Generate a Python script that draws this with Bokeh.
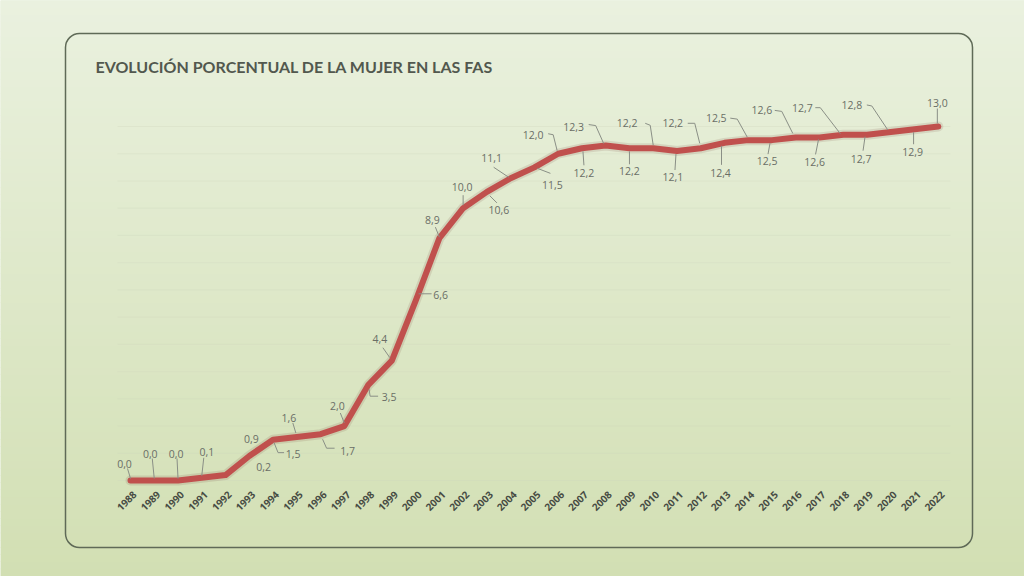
import math
from bokeh.plotting import figure
from bokeh.models import Range1d, BoxAnnotation, ColumnDataSource
from bokeh.core.properties import value
from bokeh.embed import file_html
from bokeh.resources import INLINE

# ---------------- data ----------------
TITLE = "EVOLUCIÓN PORCENTUAL DE LA MUJER EN LAS FAS"
years = list(range(1988, 2023))
pct = [0.0, 0.0, 0.0, 0.1, 0.2, 0.9, 1.5, 1.6, 1.7, 2.0,
       3.5, 4.4, 6.6, 8.9, 10.0, 10.6, 11.1, 11.5, 12.0, 12.2,
       12.3, 12.2, 12.2, 12.1, 12.2, 12.4, 12.5, 12.5, 12.6, 12.6,
       12.7, 12.7, 12.8, 12.9, 13.0]
year_labels = [str(y) for y in years]
value_labels = [f"{v:.1f}".replace(".", ",") for v in pct]
grid_values = list(range(0, 14))

# ---------------- layout (pixels) ----------------
W, H = 1024, 576
PX_YEAR = 23.76      # px per year
PX_UNIT = 27.23      # px per percentage point
X0 = 130             # px of first year from left
Y0 = 96              # px of value 0 from bottom

# label offsets in px (dx right, dy down) relative to each point
LABEL_OFF = [(-6, -17), (-4, -27), (-2, -27), (5, -26), (38, -8), (2, -17), (20, 14), (-8, -19), (27, 17), (-7, -20),
             (21, 12), (-12, -22), (25, -6), (-7, -18), (-1, -21), (12, 18), (-19, -20), (18, 18), (-25, -19), (2, 25),
             (-32, -19), (0, 23), (-26, -25), (-4, 26), (-28, -25), (-4, 30), (-32, -22), (-5, 21), (-34, -27), (-5, 25),
             (-41, -27), (-6, 24), (-39, -27), (-2, 23), (-1, -24)]
LEADERS = [
    [(0, -2), (-3, -12)], [(0, -2), (-2, -22)], [(0, -2), (-1, -22)], [(0, -2), (2, -20)], None, None,
    [(1, 3), (5, 13), (11, 13)], [(-1, -4), (-4, -14)], [(2, 5), (6, 14), (14, 14)], [(0, -3), (-4, -13)],
    [(1, 4), (2, 11), (10, 11)], [(-2, -3), (-9, -13)], [(3, -7), (16, -7)], [(0, -1), (-4, -11)],
    [(0, -3), (0, -13)], [(3, 4), (10, 11)], [(-2, -1), (-17, -11)], [(3, 1), (16, 6)],
    [(-1, -3), (-5, -19), (-10, -20)], [(1, 3), (2, 17)], [(-2, -2), (-10, -20), (-17, -21)],
    [(0, 3), (0, 16)], [(0, -3), (-3, -23), (-8, -25)], [(-1, 3), (-2, 19)],
    [(-1, -5), (-6, -25), (-13, -25)], [(-3, 3), (-3, 22)], [(-1, -3), (-11, -21), (-18, -22)],
    [(-2, 3), (-4, 14)], [(-3, -4), (-14, -26), (-21, -27)], [(-1, 2), (-4, 17)],
    [(-3, -1), (-23, -27), (-28, -27)], [(-2, 2), (-4, 16)], [(-3, -2), (-19, -26), (-24, -27)],
    [(-1, 3), (-1, 15)], [(-1, -3), (-1, -18)],
]

x_range = Range1d(years[0] - X0 / PX_YEAR, years[0] + (W - X0) / PX_YEAR)
y_range = Range1d(-Y0 / PX_UNIT, (H - Y0) / PX_UNIT)

p = figure(width=W, height=H, x_range=x_range, y_range=y_range,
           output_backend="svg", toolbar_location=None, min_border=0,
           x_axis_location=None, y_axis_location=None,
           outline_line_color=None, background_fill_color="#e0e9cf",
           border_fill_color="#e0e9cf")
p.extra_x_ranges = {"px": Range1d(0, W)}
p.extra_y_ranges = {"py": Range1d(0, H)}
p.grid.visible = False

# ---- background gradient (page coords, px) ----
def hex2rgb(h):
    h = h.lstrip("#")
    return tuple(int(h[i:i + 2], 16) for i in (0, 2, 4))

top_c, bot_c = hex2rgb("#eaf1df"), hex2rgb("#d2dfb3")
N = 80
lefts, rights, bottoms, tops, cols = [], [], [], [], []
for i in range(N):
    t = (i + 0.5) / N  # 0 at bottom
    c = tuple(round(bot_c[k] + (top_c[k] - bot_c[k]) * t) for k in range(3))
    lefts.append(0); rights.append(W)
    bottoms.append(H * i / N); tops.append(H * (i + 1) / N + 0.6)
    cols.append("#%02x%02x%02x" % c)
p.quad(left=lefts, right=rights, bottom=bottoms, top=tops, fill_color=cols,
       line_color=None, x_range_name="px", y_range_name="py")

# ---- rounded chart box ----
box = BoxAnnotation(left=65, right=972, bottom=H - 547, top=H - 33,
                    x_range_name="px", y_range_name="py",
                    fill_alpha=0, line_color="#5f6a57", line_alpha=1.0, line_width=1.5,
                    border_radius=14)
p.add_layout(box)

# ---- title ----
p.text(x=[95], y=[H - 66], text=[TITLE], x_range_name="px", y_range_name="py",
       text_font=value("Lato"), text_font_style="bold", text_font_size="16px",
       text_color="#52584e", text_baseline="middle", text_align="left")

# ---- faint gridlines ----
gx0 = years[0] - 13 / PX_YEAR
gx1 = years[-1] + 12 / PX_YEAR
p.segment(x0=[gx0] * len(grid_values), x1=[gx1] * len(grid_values),
          y0=grid_values, y1=grid_values, line_color="#cdd5bd", line_alpha=0.3, line_width=1)

# ---- series ----
src = ColumnDataSource(dict(x=years, y=pct))
p.line("x", "y", source=src, line_color="#6e3431", line_alpha=0.13, line_width=10,
       line_join="round", line_cap="round")
p.line("x", "y", source=src, line_color="#c0504d", line_width=6,
       line_join="round", line_cap="round")

# ---- leaders ----
xs, ys = [], []
for yr, v, lead in zip(years, pct, LEADERS):
    if not lead:
        continue
    xs.append([yr + dx / PX_YEAR for dx, dy in lead])
    ys.append([v - dy / PX_UNIT for dx, dy in lead])
p.multi_line(xs, ys, line_color="#8a8f86", line_width=1)

# ---- data labels ----
lx = [yr + dx / PX_YEAR for yr, (dx, dy) in zip(years, LABEL_OFF)]
ly = [v - dy / PX_UNIT for v, (dx, dy) in zip(pct, LABEL_OFF)]
p.text(x=lx, y=ly, text=value_labels, text_font=value("Open Sans"),
       text_font_size="10.5px", text_color="#6a6e66",
       text_align="center", text_baseline="middle")

# ---- year tick labels ----
tx = [yr + 4 / PX_YEAR for yr in years]
ty = [-12 / PX_UNIT] * len(years)
p.text(x=tx, y=ty, text=year_labels, angle=math.pi / 4,
       text_font=value("Open Sans"), text_font_style="bold", text_font_size="10px",
       text_color="#474c44", text_align="right", text_baseline="middle")

open("out.html", "w").write(file_html(p, INLINE))
